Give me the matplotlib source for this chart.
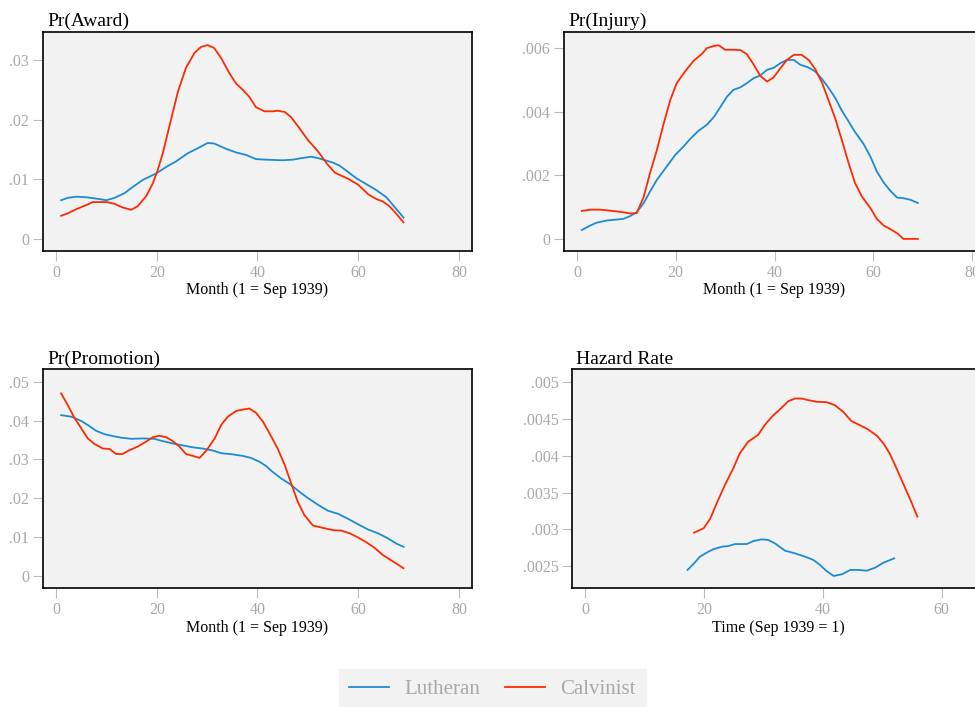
import matplotlib
matplotlib.use("Agg")
from matplotlib import pyplot as plt
from matplotlib.lines import Line2D
import numpy as np

plt.rcParams['font.family'] = ['Liberation Serif', 'DejaVu Serif']

# Pr(Award)
award_x_luth = [1, 2.3, 4, 6, 8.6, 10, 11.6, 13.6, 15.2, 17.2, 19.9, 21.9, 23.8, 26.2, 28.1, 30.1, 31.4, 33.8, 35.8,
                37.7, 39.7, 41.7, 45, 47, 48.3, 50.7, 52.3, 55, 56.3, 57.9, 59.6, 61.6, 63.6, 65.6, 67.2, 69]
award_y_luth = [.0065, .0069, .0071, .0070, .0067, .0065, .0069, .0077, .0087, .0099, .0110, .0121, .0130, .0144,
                .0152, .0161, .0160, .0151, .0145, .0141, .0134, .0133, .0132, .0133, .0135, .0138, .0135, .0128,
                .0123, .0113, .0102, .0092, .0082, .0070, .0054, .0036]
award_x_calv = [1, 2.3, 4, 6, 7.3, 10, 11.6, 13.2, 14.9, 16.2, 17.9, 19.2, 20.2, 21.2, 22.5, 24.2, 25.8, 27.5, 28.8,
                30.1, 31.4, 32.8, 34.4, 35.8, 37.1, 38.4, 39.7, 41.4, 43, 44, 45.4, 46.7, 48.3, 50, 52, 54, 55.4,
                58, 60, 62, 63.6, 64.9, 66.2, 67.5, 69]
award_y_calv = [.0039, .0043, .0050, .0057, .0062, .0062, .0059, .0053, .0049, .0055, .0072, .0093, .0116, .0144,
                .0189, .0247, .0287, .0312, .0322, .0325, .0320, .0303, .0278, .0260, .0250, .0238, .0221, .0214,
                .0214, .0215, .0213, .0204, .0186, .0166, .0147, .0124, .0111, .0101, .0091, .0075, .0067, .0063,
                .0055, .0043, .0028]

# Pr(Injury)
injury_x_luth = [1, 2.7, 4, 6.1, 8.1, 9.4, 10.8, 12.1, 13.5, 14.8, 16.2, 17.9, 19.9, 21.6, 22.9, 24.6, 26.3, 27.7,
                 29, 30.4, 31.7, 33.1, 34.4, 35.8, 37.1, 38.5, 39.8, 41.2, 42.5, 43.9, 45.2, 46.9, 48.2, 49.6, 50.9,
                 52.3, 53.6, 55, 56.3, 58, 59.4, 60.7, 62.1, 63.4, 64.8, 66.1, 67.5, 69]
injury_y_luth = [.00028, .00042, .00051, .00058, .00061, .00063, .00072, .00084, .00112, .00149, .00186, .00222,
                 .00264, .00291, .00314, .00340, .00359, .00383, .00414, .00448, .00469, .00477, .00490, .00506,
                 .00514, .00532, .00538, .00553, .00563, .00563, .00548, .00539, .00527, .00503, .00476, .00443,
                 .00404, .00369, .00336, .00299, .00259, .00212, .00177, .00152, .00130, .00128, .00123, .00113]
injury_x_calv = [1, 2.7, 4.7, 6.7, 8.8, 10.8, 12.1, 13.5, 14.8, 16.2, 17.5, 18.9, 20.2, 21.9, 23.6, 25.3, 26.3,
                 27.7, 28.7, 30, 31.7, 33.1, 34.4, 35.8, 37.1, 38.5, 39.8, 41.2, 42.5, 43.9, 45.5, 46.9, 48.2, 49.6,
                 50.9, 52.3, 53.6, 55, 56.3, 57.7, 59.4, 60.7, 62.1, 63.4, 64.8, 66.1, 69]
injury_y_calv = [.00088, .00092, .00092, .00089, .00085, .00080, .00081, .00131, .00207, .00280, .00359, .00437,
                 .00490, .00527, .00560, .00582, .00600, .00607, .00609, .00595, .00595, .00594, .00581, .00548,
                 .00513, .00495, .00508, .00537, .00563, .00579, .00579, .00563, .00535, .00492, .00437, .00378,
                 .00312, .00238, .00175, .00133, .00097, .00063, .00042, .00031, .00018, 0, 0]

# Pr(Promotion)
promo_x_luth = [1, 3, 5, 6.6, 7.9, 9.6, 11.3, 12.9, 14.9, 17.2, 19.5, 21.2, 23.2, 25.2, 27.2, 29.1, 31.1, 32.8,
                35.1, 37.1, 38.7, 40.4, 41.7, 43, 44.7, 46.4, 48.3, 50.3, 52.3, 54, 56, 58, 60, 61.9, 63.9, 65.9,
                67.5, 69]
promo_y_luth = [.0414, .0410, .0399, .0386, .0374, .0365, .0360, .0356, .0353, .0354, .0353, .0347, .0341, .0336,
                .0331, .0328, .0323, .0316, .0313, .0309, .0304, .0294, .0283, .0268, .0251, .0237, .0217, .0198,
                .0181, .0168, .0160, .0147, .0133, .0120, .0110, .0097, .0084, .0075]
promo_x_calv = [1, 2.3, 3.6, 5, 6.3, 7.6, 9.3, 10.6, 11.9, 13.2, 14.6, 16.2, 17.9, 19.2, 20.5, 21.9, 23.2, 24.5,
                25.8, 27.2, 28.5, 29.8, 31.5, 32.8, 34.1, 35.8, 37.4, 38.4, 39.7, 41.1, 42.4, 44, 45.4, 46.7, 48,
                49.3, 51, 52.6, 55, 56.6, 58.3, 60, 61.6, 63.2, 64.9, 67.2, 69]
promo_y_calv = [.0470, .0440, .0408, .0380, .0354, .0340, .0328, .0327, .0314, .0314, .0324, .0333, .0346, .0357,
                .0361, .0357, .0347, .0333, .0314, .0309, .0304, .0322, .0354, .0389, .0410, .0425, .0429, .0431,
                .0420, .0397, .0367, .0328, .0286, .0238, .0191, .0157, .0130, .0125, .0118, .0117, .0110, .0099,
                .0087, .0073, .0054, .0035, .0020]

# Hazard Rate
hazard_x_luth = [17.2, 18.2, 19.3, 20.4, 21.5, 23, 24.1, 25.2, 27.2, 28.3, 29.7, 30.8, 31.9, 33.6, 35.3, 37, 38.4,
                 39.5, 40.6, 41.8, 43.2, 44.6, 46, 47.4, 48.8, 50.2, 52]
hazard_y_luth = [.002446, .002527, .002627, .002681, .002727, .002763, .002772, .002799, .002799, .00284, .002863,
                 .002854, .002809, .002709, .002672, .002627, .002582, .002514, .002432, .002364, .002387, .002446,
                 .002446, .002436, .002477, .002545, .002604]
hazard_x_calv = [18.3, 19.9, 21, 22.1, 23.5, 24.9, 26, 27.4, 29.1, 30.2, 31.4, 32.8, 34.2, 35.3, 36.4, 37.5, 38.9,
                 40.6, 42, 43.4, 44.8, 46.2, 47.6, 49.1, 50.2, 51.3, 52.4, 53.5, 54.7, 55.9]
hazard_y_calv = [.002954, .003013, .00314, .003353, .003603, .003829, .004034, .004192, .004288, .004419, .004533,
                 .004637, .004746, .004782, .004782, .00476, .004737, .004732, .004691, .004601, .004474, .004419,
                 .00436, .004274, .00417, .004024, .003829, .003625, .003407, .003172]

blue = '#1a8cd6'
red = '#ff2a00'
tick_gray = '#a8a8a8'
panel_bg = '#f2f2f2'

fig = plt.figure(figsize=(9.75, 7.07), dpi=100)


def panel(rect, title, xl, xs_l, ys_l, xs_c, ys_c, xticks, yticks, ylabels, xlim, ylim):
    ax = fig.add_axes(rect)
    ax.set_facecolor(panel_bg)
    ax.plot(xs_l, ys_l, color=blue, lw=1.3)
    ax.plot(xs_c, ys_c, color=red, lw=1.3)
    ax.set_xlim(*xlim)
    ax.set_ylim(*ylim)
    ax.set_xticks(xticks)
    ax.set_yticks(yticks)
    ax.set_yticklabels(ylabels)
    ax.tick_params(direction='out', length=7, width=0.8, color='#bbbbbb', labelcolor=tick_gray,
                   labelsize=11.5, pad=3)
    for s in ax.spines.values():
        s.set_color('black')
        s.set_linewidth(1.2)
    ax.set_xlabel(xl, fontsize=11.5, labelpad=1)
    ax.set_title(title, loc='left', fontsize=14, pad=4, x=0.01)
    return ax


panel([0.0441, 0.645, 0.44, 0.3098], 'Pr(Award)', 'Month (1 = Sep 1939)',
      award_x_luth, award_y_luth, award_x_calv, award_y_calv,
      [0, 20, 40, 60, 80], [0, .01, .02, .03], ['0', '.01', '.02', '.03'], (-2.6, 82.6), (-0.002, 0.0347))

panel([0.5785, 0.645, 0.4318, 0.3098], 'Pr(Injury)', 'Month (1 = Sep 1939)',
      injury_x_luth, injury_y_luth, injury_x_calv, injury_y_calv,
      [0, 20, 40, 60, 80], [0, .002, .004, .006], ['0', '.002', '.004', '.006'], (-2.6, 82.6),
      (-0.00038, 0.00651))

panel([0.0441, 0.1679, 0.44, 0.3098], 'Pr(Promotion)', 'Month (1 = Sep 1939)',
      promo_x_luth, promo_y_luth, promo_x_calv, promo_y_calv,
      [0, 20, 40, 60, 80], [0, .01, .02, .03, .04, .05], ['0', '.01', '.02', '.03', '.04', '.05'],
      (-2.6, 82.6), (-0.00316, 0.0532))

panel([0.587, 0.1679, 0.4233, 0.3098], 'Hazard Rate', 'Time (Sep 1939 = 1)',
      hazard_x_luth, hazard_y_luth, hazard_x_calv, hazard_y_calv,
      [0, 20, 40, 60], [.0025, .003, .0035, .004, .0045, .005],
      ['.0025', '.003', '.0035', '.004', '.0045', '.005'], (-2.2, 67.3), (0.002196, 0.00518))

handles = [Line2D([], [], color=blue, lw=1.3), Line2D([], [], color=red, lw=1.3)]
leg = fig.legend(handles, ['Lutheran', 'Calvinist'], loc='lower center', bbox_to_anchor=(0.505, -0.012),
                 ncol=2, frameon=True, fancybox=False, fontsize=15, handlelength=1.9, columnspacing=1.2,
                 borderpad=0.5, handletextpad=0.75, borderaxespad=0.3, labelcolor=tick_gray)
leg.get_frame().set_facecolor(panel_bg)
leg.get_frame().set_edgecolor(panel_bg)
leg.get_frame().set_alpha(1)

fig.savefig('out.png', dpi=100)
